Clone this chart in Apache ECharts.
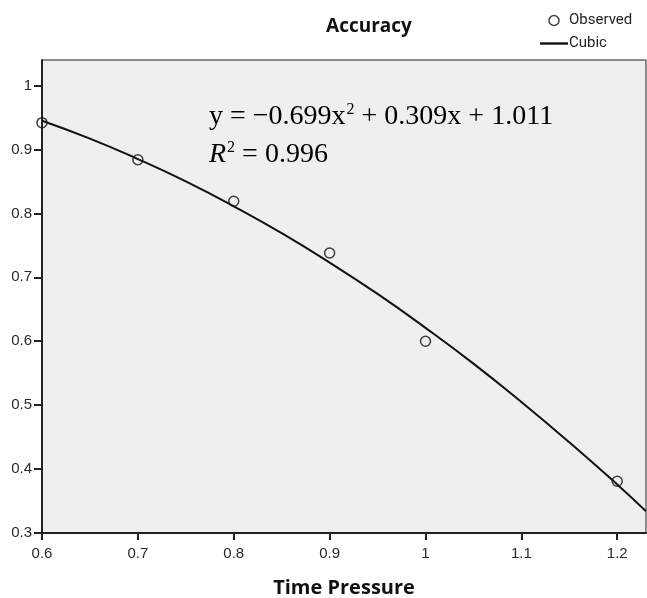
<!DOCTYPE html>
<html><head><meta charset="utf-8">
<script src="https://cdn.jsdelivr.net/npm/echarts@6/dist/echarts.min.js"></script>
<style>html,body{margin:0;padding:0;background:#fff}#c{width:647px;height:598px}</style>
</head><body><div id="c"></div>
<script>
const observedX = [0.6, 0.7, 0.8, 0.9, 1.0, 1.2];
const observedY = [0.942, 0.884, 0.819, 0.738, 0.600, 0.381];
const fitX = [0.6, 0.65, 0.7, 0.75, 0.8, 0.85, 0.9, 0.95, 1.0, 1.05, 1.1, 1.15, 1.2, 1.23];
const fitY = [0.945, 0.917, 0.885, 0.850, 0.811, 0.769, 0.723, 0.674, 0.621, 0.565, 0.505, 0.442, 0.376, 0.334];
const xTicks = [0.6, 0.7, 0.8, 0.9, 1.0, 1.1, 1.2];
const yTicks = [0.3, 0.4, 0.5, 0.6, 0.7, 0.8, 0.9, 1];

const tickFmt = list => v => { const t = list.find(k => Math.abs(k - v) < 1e-6); return t === undefined ? '' : String(t); };
const eqFont = '"Liberation Serif", "DejaVu Serif", serif';
const eqRich = {
  n: {fontFamily: eqFont, fontSize: 28, color: '#555', lineHeight: 32, verticalAlign: 'bottom'},
  i: {fontFamily: eqFont, fontSize: 28, fontStyle: 'italic', color: '#555', lineHeight: 32, verticalAlign: 'bottom'},
  s: {fontFamily: eqFont, fontSize: 16, color: '#555', lineHeight: 32, verticalAlign: 'top', padding: [3, 0, 0, 1]}
};

const chart = echarts.init(document.getElementById('c'));
chart.setOption({
  animation: false,
  title: {text: 'Accuracy', left: 364, top: 12, textAlign: 'center',
    textStyle: {fontFamily: 'Open Sans', fontWeight: 'bold', fontSize: 19, color: '#111'}},
  legend: {orient: 'vertical', left: 535, top: 8, itemWidth: 28, itemHeight: 10, itemGap: 8,
    textStyle: {fontFamily: 'Roboto', fontSize: 15, color: '#222', padding: [0, 0, 0, -4]},
    data: [
      {name: 'Observed', icon: 'circle', itemStyle: {color: 'transparent', borderColor: '#111', borderWidth: 1.5}},
      {name: 'Cubic', icon: 'path://M0,3.8 L28,3.8 L28,6.2 L0,6.2 Z', itemStyle: {color: '#111', borderWidth: 0}}
    ]},
  grid: {left: 42, top: 60, right: 1, bottom: 65, show: true, backgroundColor: '#efefef',
    borderColor: '#222', borderWidth: 1, containLabel: false, outerBoundsMode: 'none'},
  xAxis: {type: 'value', min: 0.6, max: 1.23, interval: 0.1,
    name: 'Time Pressure', nameLocation: 'middle', nameGap: 45,
    nameTextStyle: {fontFamily: 'Open Sans', fontWeight: 'bold', fontSize: 20, color: '#111'},
    axisLine: {show: true, lineStyle: {color: '#222', width: 2}},
    axisTick: {show: true, length: 7, lineStyle: {color: '#222', width: 2}},
    splitLine: {show: false},
    axisLabel: {fontFamily: 'Liberation Sans', fontSize: 15, color: '#2a2a2a', margin: 13,
      showMaxLabel: false, formatter: tickFmt(xTicks)}},
  yAxis: {type: 'value', min: 0.3, max: 1.04, interval: 0.1,
    axisLine: {show: true, lineStyle: {color: '#222', width: 2}},
    axisTick: {show: true, length: 8, lineStyle: {color: '#222', width: 2}},
    splitLine: {show: false},
    axisLabel: {fontFamily: 'Liberation Sans', fontSize: 15, color: '#2a2a2a', margin: 10,
      showMaxLabel: false, formatter: tickFmt(yTicks)}},
  graphic: [
    {type: 'text', left: 209, top: 99, style: {
      text: '{n|y = −0.699x}{s|2}{n| + 0.309x + 1.011}', rich: eqRich}},
    {type: 'text', left: 209, top: 137, style: {
      text: '{i|R}{s|2}{n| = 0.996}', rich: eqRich}}
  ],
  series: [
    {name: 'Cubic', type: 'line', data: fitX.map((x, i) => [x, fitY[i]]), smooth: true,
      showSymbol: false, symbol: 'none', lineStyle: {color: '#111', width: 2}, itemStyle: {color: '#111'}, z: 2},
    {name: 'Observed', type: 'scatter', data: observedX.map((x, i) => [x, observedY[i]]),
      symbol: 'circle', symbolSize: 10,
      itemStyle: {color: 'transparent', borderColor: '#111', borderWidth: 1.5}, z: 3}
  ]
});
</script></body></html>
